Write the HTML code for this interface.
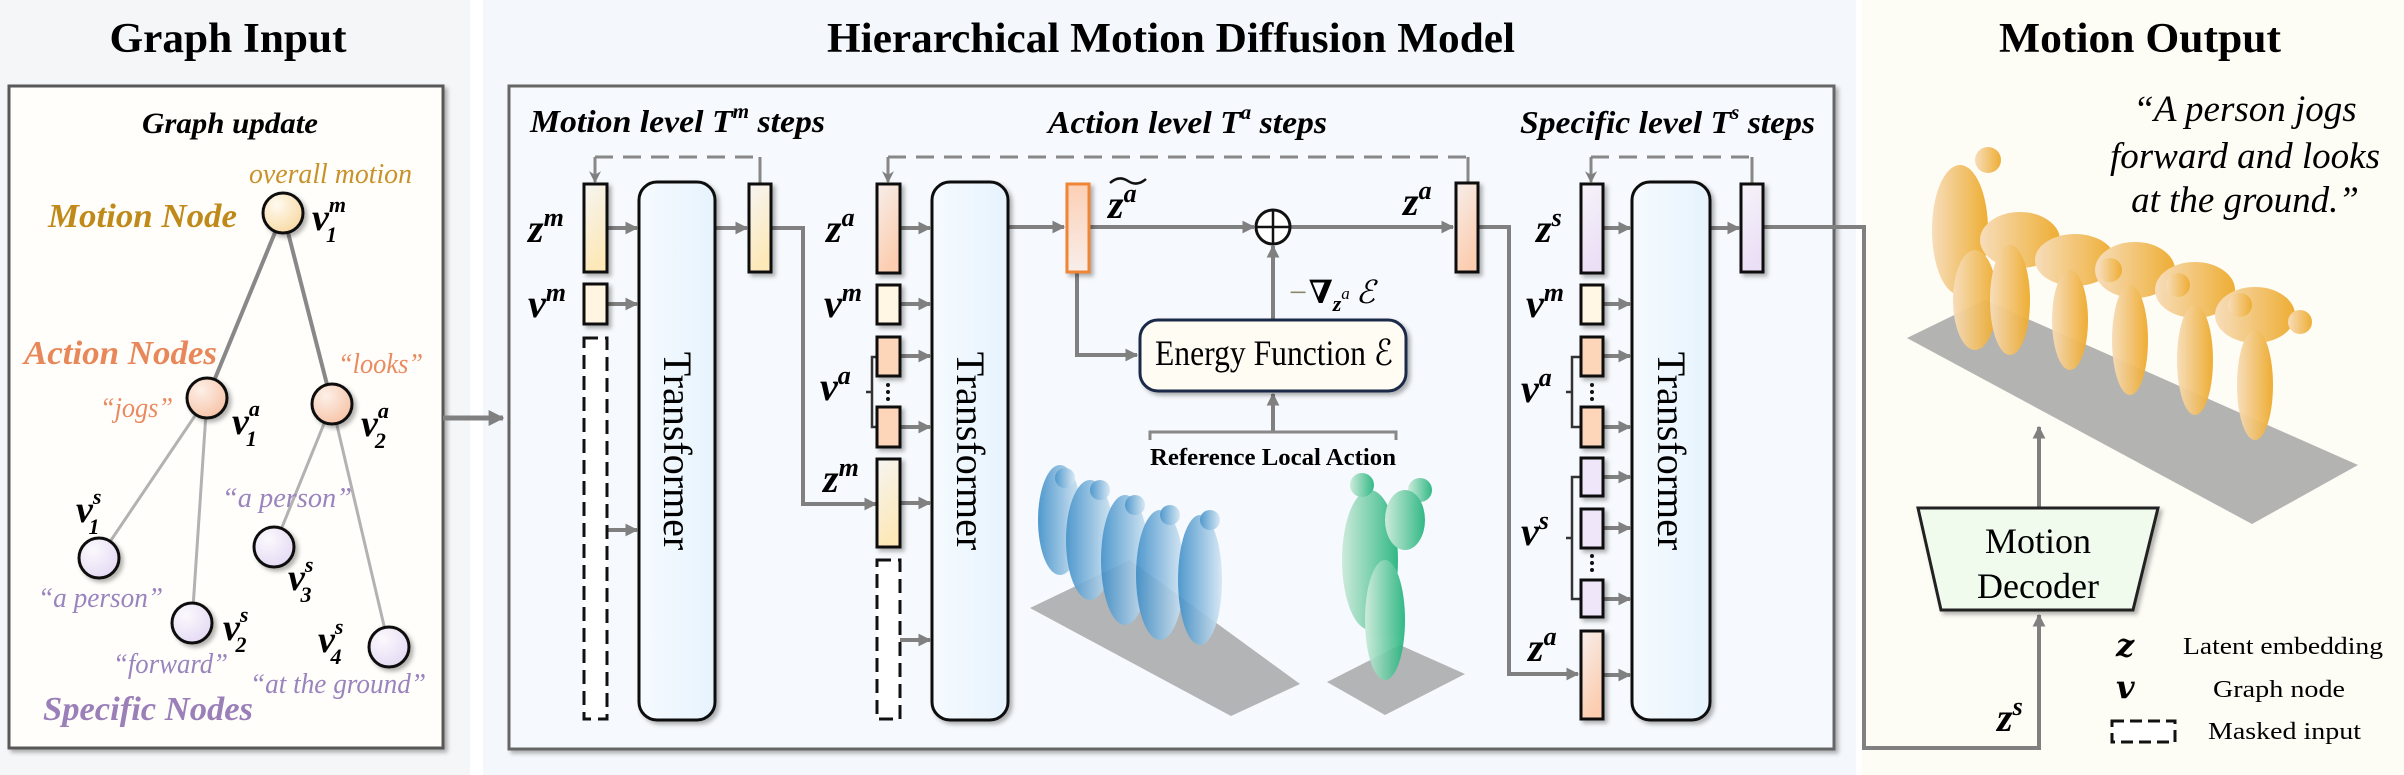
<!DOCTYPE html>
<html><head><meta charset="utf-8"><style>
html,body{margin:0;padding:0;background:#fff}
svg{display:block}
text{font-family:"Liberation Serif","DejaVu Serif",serif}
.m{font-family:"DejaVu Serif",serif;font-weight:bold;font-style:italic}
</style></head><body>
<svg width="2404" height="775" viewBox="0 0 2404 775" xmlns="http://www.w3.org/2000/svg">
<defs>
<marker id="ah" viewBox="0 0 10 10" refX="9" refY="5" markerWidth="3.2" markerHeight="3.2" orient="auto" markerUnits="strokeWidth"><path d="M0,0 L10,5 L0,10 z" fill="#808080"/></marker>
<marker id="av" viewBox="0 0 10 10" refX="9" refY="5" markerWidth="4" markerHeight="4" orient="auto" markerUnits="strokeWidth"><path d="M0,0 L10,5 L0,10 L3,5 z" fill="#808080"/></marker>
<linearGradient id="gm" x1="0" y1="0" x2="0.3" y2="1"><stop offset="0" stop-color="#f6f5f2"/><stop offset="1" stop-color="#fde8b8"/></linearGradient>
<linearGradient id="ga" x1="0" y1="0" x2="0.4" y2="1"><stop offset="0" stop-color="#f7eeea"/><stop offset="1" stop-color="#fccdb0"/></linearGradient>
<linearGradient id="gt" x1="0" y1="0" x2="0" y2="1"><stop offset="0" stop-color="#fcd0b5"/><stop offset="1" stop-color="#f8eeea"/></linearGradient>
<linearGradient id="gs" x1="0" y1="0" x2="0.3" y2="1"><stop offset="0" stop-color="#f6f3f8"/><stop offset="1" stop-color="#ebdff6"/></linearGradient>
<radialGradient id="nm" cx="0.35" cy="0.3" r="0.8"><stop offset="0" stop-color="#fffaf0"/><stop offset="1" stop-color="#f7d79e"/></radialGradient>
<radialGradient id="na" cx="0.35" cy="0.3" r="0.8"><stop offset="0" stop-color="#fdf0e8"/><stop offset="1" stop-color="#f6c0a2"/></radialGradient>
<radialGradient id="ns" cx="0.35" cy="0.3" r="0.8"><stop offset="0" stop-color="#fbf9fd"/><stop offset="1" stop-color="#e3d8f3"/></radialGradient>
<linearGradient id="gtr" x1="0" y1="0" x2="1" y2="0"><stop offset="0" stop-color="#f6fbff"/><stop offset="1" stop-color="#e6f3fd"/></linearGradient>
<linearGradient id="orng" x1="0" y1="0" x2="1" y2="0"><stop offset="0" stop-color="#f7dcb8"/><stop offset="1" stop-color="#eeaa2a"/></linearGradient>
<linearGradient id="blue" x1="0" y1="0" x2="1" y2="0"><stop offset="0" stop-color="#3f8fc9"/><stop offset="1" stop-color="#d4e6f3"/></linearGradient>
<linearGradient id="grn" x1="0" y1="0" x2="1" y2="0"><stop offset="0" stop-color="#c9ead7"/><stop offset="1" stop-color="#1eb27a"/></linearGradient>
<filter id="sh" x="-20%" y="-20%" width="150%" height="150%"><feDropShadow dx="3" dy="3" stdDeviation="2" flood-color="#000" flood-opacity="0.3"/></filter>
</defs>

<rect x="0" y="0" width="470" height="775" fill="#f5f6f8"/>
<rect x="483" y="0" width="1373" height="775" fill="#f4f8fc"/>
<rect x="1862" y="0" width="542" height="775" fill="#fdfcf5"/>

<text x="228" y="52" font-size="42" font-weight="bold" text-anchor="middle" textLength="237" lengthAdjust="spacingAndGlyphs">Graph Input</text>
<text x="1171" y="52" font-size="42" font-weight="bold" text-anchor="middle" textLength="688" lengthAdjust="spacingAndGlyphs">Hierarchical Motion Diffusion Model</text>
<text x="2140" y="52" font-size="42" font-weight="bold" text-anchor="middle" textLength="282" lengthAdjust="spacingAndGlyphs">Motion Output</text>

<!-- LEFT BOX -->
<rect x="9" y="86" width="434" height="662" fill="#fffefa" stroke="#585858" stroke-width="3" filter="url(#sh)"/>
<text x="230" y="133" font-size="30" font-weight="bold" font-style="italic" text-anchor="middle" textLength="176" lengthAdjust="spacingAndGlyphs">Graph update</text>
<g stroke="#888" stroke-width="4"><line x1="283" y1="213" x2="207" y2="398"/><line x1="283" y1="213" x2="332" y2="404"/></g>
<g stroke="#b2b2b2" stroke-width="3"><line x1="207" y1="398" x2="99" y2="558"/><line x1="207" y1="398" x2="192" y2="623"/><line x1="332" y1="404" x2="274" y2="547"/><line x1="332" y1="404" x2="389" y2="647"/></g>
<g stroke="#111" stroke-width="3" filter="url(#sh)">
<circle cx="283" cy="213" r="20" fill="url(#nm)"/>
<circle cx="207" cy="398" r="20" fill="url(#na)"/>
<circle cx="332" cy="404" r="20" fill="url(#na)"/>
<circle cx="99" cy="558" r="20" fill="url(#ns)"/>
<circle cx="192" cy="623" r="20" fill="url(#ns)"/>
<circle cx="274" cy="547" r="20" fill="url(#ns)"/>
<circle cx="389" cy="647" r="20" fill="url(#ns)"/>
</g>
<g font-style="italic" font-size="28">
<text x="249" y="183" fill="#c8922a" textLength="163" lengthAdjust="spacingAndGlyphs">overall motion</text>
<text x="338" y="373" fill="#ea8a60" textLength="85" lengthAdjust="spacingAndGlyphs">“looks”</text>
<text x="100" y="417" fill="#ea8a60" textLength="73" lengthAdjust="spacingAndGlyphs">“jogs”</text>
<text x="38" y="607" fill="#9a84be" textLength="125" lengthAdjust="spacingAndGlyphs">“a person”</text>
<text x="222" y="507" fill="#9a84be" textLength="130" lengthAdjust="spacingAndGlyphs">“a person”</text>
<text x="113" y="673" fill="#9a84be" textLength="115" lengthAdjust="spacingAndGlyphs">“forward”</text>
<text x="250" y="693" fill="#9a84be" textLength="176" lengthAdjust="spacingAndGlyphs">“at the ground”</text>
</g>
<g font-weight="bold" font-style="italic" font-size="34">
<text x="48" y="227" fill="#c08a1a" textLength="189" lengthAdjust="spacingAndGlyphs">Motion Node</text>
<text x="24" y="364" fill="#e8875a" textLength="193" lengthAdjust="spacingAndGlyphs">Action Nodes</text>
<text x="43" y="720" fill="#9a7fb8" textLength="210" lengthAdjust="spacingAndGlyphs">Specific Nodes</text>
</g>
<g class="m" font-size="38">
<text x="312" y="230">v<tspan font-size="22" dy="-18">m</tspan><tspan font-size="22" dx="-20" dy="30">1</tspan></text>
<text x="232" y="434">v<tspan font-size="22" dy="-18">a</tspan><tspan font-size="22" dx="-14" dy="30">1</tspan></text>
<text x="361" y="436">v<tspan font-size="22" dy="-18">a</tspan><tspan font-size="22" dx="-14" dy="30">2</tspan></text>
<text x="76" y="522">v<tspan font-size="22" dy="-18">s</tspan><tspan font-size="22" dx="-13" dy="30">1</tspan></text>
<text x="223" y="640">v<tspan font-size="22" dy="-18">s</tspan><tspan font-size="22" dx="-13" dy="30">2</tspan></text>
<text x="288" y="590">v<tspan font-size="22" dy="-18">s</tspan><tspan font-size="22" dx="-13" dy="30">3</tspan></text>
<text x="318" y="652">v<tspan font-size="22" dy="-18">s</tspan><tspan font-size="22" dx="-13" dy="30">4</tspan></text>
</g>

<line x1="443" y1="418" x2="503" y2="418" stroke="#808080" stroke-width="5" marker-end="url(#ah)"/>

<!-- MIDDLE BOX -->
<rect x="509" y="86" width="1325" height="663" fill="#f6f9fd" stroke="#666" stroke-width="3" filter="url(#sh)"/>
<g font-weight="bold" font-style="italic" font-size="32">
<text x="530" y="132" textLength="295" lengthAdjust="spacingAndGlyphs">Motion level T<tspan font-size="20" dy="-14">m</tspan><tspan dy="14"> steps</tspan></text>
<text x="1048" y="133" textLength="279" lengthAdjust="spacingAndGlyphs">Action level T<tspan font-size="20" dy="-14">a</tspan><tspan dy="14"> steps</tspan></text>
<text x="1520" y="133" textLength="295" lengthAdjust="spacingAndGlyphs">Specific level T<tspan font-size="20" dy="-14">s</tspan><tspan dy="14"> steps</tspan></text>
</g>

<g stroke="#888" stroke-width="3" fill="none">
<path d="M595,157 H760" stroke-dasharray="18 10"/><path d="M760,157 V184"/><path d="M595,157 V182" marker-end="url(#av)"/>
<path d="M888,157 H1468" stroke-dasharray="18 10"/><path d="M1468,157 V183"/><path d="M888,157 V182" marker-end="url(#av)"/>
<path d="M1591,157 H1752" stroke-dasharray="18 10"/><path d="M1752,157 V184"/><path d="M1591,157 V182" marker-end="url(#av)"/>
</g>

<g stroke="#808080" stroke-width="4" fill="none">
<path d="M607,228 H637" marker-end="url(#ah)"/><path d="M607,304 H637" marker-end="url(#ah)"/><path d="M607,530 H637" marker-end="url(#ah)"/>
<path d="M715,228 H747" marker-end="url(#ah)"/>
<path d="M771,228 H803 V504 H876" marker-end="url(#ah)"/>
<path d="M900,228 H930" marker-end="url(#ah)"/><path d="M900,304 H930" marker-end="url(#ah)"/><path d="M900,356 H930" marker-end="url(#ah)"/><path d="M900,427 H930" marker-end="url(#ah)"/><path d="M900,503 H930" marker-end="url(#ah)"/><path d="M900,640 H930" marker-end="url(#ah)"/>
<path d="M1008,227 H1064" marker-end="url(#ah)"/>
<path d="M1089,227 H1254" marker-end="url(#ah)"/>
<path d="M1290,227 H1453" marker-end="url(#ah)"/>
<path d="M1077,272 V355 H1137" marker-end="url(#ah)"/>
<path d="M1273,320 V246" marker-end="url(#ah)"/>
<path d="M1273,432 V394" marker-end="url(#ah)"/>
<path d="M1478,227 H1509 V674 H1578" marker-end="url(#ah)"/>
<path d="M1603,228 H1630" marker-end="url(#ah)"/><path d="M1603,304 H1630" marker-end="url(#ah)"/><path d="M1603,356 H1630" marker-end="url(#ah)"/><path d="M1603,427 H1630" marker-end="url(#ah)"/><path d="M1603,477 H1630" marker-end="url(#ah)"/><path d="M1603,528 H1630" marker-end="url(#ah)"/><path d="M1603,599 H1630" marker-end="url(#ah)"/><path d="M1603,675 H1630" marker-end="url(#ah)"/>
<path d="M1710,228 H1739" marker-end="url(#ah)"/>
<path d="M1763,227 H1864 V748 H2039 V615" marker-end="url(#ah)"/>
<path d="M2039,508 V427" marker-end="url(#ah)"/>
</g>
<g stroke="#333" stroke-width="2.5" fill="none">
<path d="M879,357 H872 V427 H879 M872,392 H866"/>
<path d="M1581,357 H1572 V427 H1581 M1572,392 H1566"/>
<path d="M1581,477 H1572 V599 H1581 M1572,538 H1566"/>
</g>
<path d="M1150,440 V432 H1396 V440" stroke="#888" stroke-width="3" fill="none"/>
<text x="1273" y="465" font-size="24" font-weight="bold" text-anchor="middle" textLength="246" lengthAdjust="spacingAndGlyphs">Reference Local Action</text>

<g stroke="#111" stroke-width="3" filter="url(#sh)">
<rect x="584" y="184" width="23" height="88" fill="url(#gm)"/>
<rect x="584" y="284" width="23" height="40" fill="#fff5e0"/>
<rect x="749" y="184" width="22" height="88" fill="url(#gm)"/>
<rect x="877" y="184" width="23" height="89" fill="url(#ga)"/>
<rect x="877" y="285" width="23" height="39" fill="#fff6e4"/>
<rect x="877" y="337" width="23" height="39" fill="#fdd5b9"/>
<rect x="877" y="407" width="23" height="40" fill="#fdd5b9"/>
<rect x="877" y="459" width="23" height="88" fill="url(#gm)"/>
<rect x="1067" y="184" width="22" height="88" fill="url(#gt)" stroke="#ef8535"/>
<rect x="1456" y="183" width="22" height="89" fill="url(#ga)"/>
<rect x="1581" y="184" width="22" height="89" fill="url(#gs)"/>
<rect x="1741" y="184" width="22" height="88" fill="url(#gs)"/>
<rect x="1581" y="285" width="22" height="39" fill="#fff6e4"/>
<rect x="1581" y="337" width="22" height="39" fill="#fdd5b9"/>
<rect x="1581" y="407" width="22" height="40" fill="#fdd5b9"/>
<rect x="1581" y="458" width="22" height="38" fill="#efe6fa"/>
<rect x="1581" y="509" width="22" height="39" fill="#efe6fa"/>
<rect x="1581" y="580" width="22" height="37" fill="#efe6fa"/>
<rect x="1581" y="631" width="22" height="88" fill="url(#ga)"/>
</g>
<g stroke="#111" stroke-width="3" fill="#fff" stroke-dasharray="14 7">
<rect x="584" y="338" width="23" height="381"/>
<rect x="877" y="560" width="23" height="159"/>
</g>
<g fill="#111"><circle cx="888" cy="385" r="2"/><circle cx="888" cy="392" r="2"/><circle cx="888" cy="399" r="2"/>
<circle cx="1592" cy="385" r="2"/><circle cx="1592" cy="392" r="2"/><circle cx="1592" cy="399" r="2"/>
<circle cx="1592" cy="556" r="2"/><circle cx="1592" cy="563" r="2"/><circle cx="1592" cy="570" r="2"/></g>

<g stroke="#111" stroke-width="3" fill="url(#gtr)" filter="url(#sh)">
<rect x="639" y="182" width="76" height="538" rx="18"/>
<rect x="932" y="182" width="76" height="538" rx="18"/>
<rect x="1632" y="182" width="78" height="538" rx="18"/>
</g>
<g font-size="40">
<text transform="translate(664,451) rotate(90)" text-anchor="middle">Transformer</text>
<text transform="translate(957,451) rotate(90)" text-anchor="middle">Transformer</text>
<text transform="translate(1658,451) rotate(90)" text-anchor="middle">Transformer</text>
</g>

<circle cx="1273" cy="227" r="17" fill="#fff" stroke="#111" stroke-width="3"/>
<path d="M1256,227 H1290 M1273,210 V244" stroke="#111" stroke-width="2.5"/>

<rect x="1140" y="320" width="266" height="71" rx="18" fill="#fffcf3" stroke="#1c2a4a" stroke-width="3" filter="url(#sh)"/>
<text x="1155" y="365" font-size="36" textLength="238" lengthAdjust="spacingAndGlyphs">Energy Function ℰ</text>
<text x="1287" y="303" font-size="32" font-style="italic"><tspan fill="#886">−</tspan><tspan font-weight="bold">∇</tspan><tspan font-size="22" dy="8" font-weight="bold">z</tspan><tspan font-size="17" dy="-12">a</tspan><tspan dy="4" dx="6">ℰ</tspan></text>

<g class="m" font-size="40">
<text x="528" y="242">z<tspan font-size="26" dy="-16">m</tspan></text>
<text x="528" y="317">v<tspan font-size="26" dy="-16">m</tspan></text>
<text x="826" y="242">z<tspan font-size="26" dy="-16">a</tspan></text>
<text x="824" y="317">v<tspan font-size="26" dy="-16">m</tspan></text>
<text x="820" y="400">v<tspan font-size="26" dy="-16">a</tspan></text>
<text x="823" y="492">z<tspan font-size="26" dy="-16">m</tspan></text>
<text x="1108" y="218">z<tspan font-size="26" dy="-16">a</tspan></text>
<text x="1403" y="215">z<tspan font-size="26" dy="-16">a</tspan></text>
<text x="1536" y="242">z<tspan font-size="26" dy="-16">s</tspan></text>
<text x="1526" y="317">v<tspan font-size="26" dy="-16">m</tspan></text>
<text x="1521" y="402">v<tspan font-size="26" dy="-16">a</tspan></text>
<text x="1521" y="545">v<tspan font-size="26" dy="-16">s</tspan></text>
<text x="1528" y="661">z<tspan font-size="26" dy="-16">a</tspan></text>
<text x="1997" y="731">z<tspan font-size="26" dy="-16">s</tspan></text>
</g>
<path d="M1110,183 q9,-8 18,-2 q9,6 18,-2" stroke="#111" stroke-width="2.5" fill="none"/>

<polygon points="1030,608 1130,560 1300,684 1231,716" fill="#9c9c9c" opacity="0.75"/>
<g fill="url(#blue)" opacity="0.9">
<ellipse cx="1060" cy="520" rx="22" ry="55"/><ellipse cx="1090" cy="540" rx="24" ry="60"/>
<ellipse cx="1125" cy="560" rx="24" ry="65"/><ellipse cx="1160" cy="575" rx="24" ry="65"/>
<ellipse cx="1200" cy="580" rx="22" ry="65"/>
<circle cx="1065" cy="478" r="10"/><circle cx="1100" cy="490" r="10"/><circle cx="1135" cy="505" r="10"/><circle cx="1170" cy="515" r="10"/><circle cx="1210" cy="520" r="10"/>
</g>
<polygon points="1327,682 1400,645 1465,674 1385,715" fill="#9c9c9c" opacity="0.75"/>
<g fill="url(#grn)" opacity="0.9">
<ellipse cx="1370" cy="560" rx="28" ry="70"/><ellipse cx="1385" cy="620" rx="20" ry="60"/>
<circle cx="1362" cy="485" r="12"/><circle cx="1420" cy="490" r="12"/><ellipse cx="1405" cy="520" rx="20" ry="30"/>
</g>

<polygon points="1907,338 1985,300 2358,465 2252,524" fill="#a0a0a0" opacity="0.8"/>
<g fill="url(#orng)" opacity="0.95">
<ellipse cx="1960" cy="230" rx="28" ry="65"/><circle cx="1988" cy="160" r="13"/>
<ellipse cx="1975" cy="300" rx="22" ry="50"/>
<ellipse cx="2020" cy="240" rx="40" ry="28"/><ellipse cx="2010" cy="300" rx="20" ry="55"/>
<ellipse cx="2075" cy="260" rx="40" ry="26"/><ellipse cx="2070" cy="320" rx="18" ry="50"/>
<ellipse cx="2135" cy="270" rx="40" ry="28"/><ellipse cx="2130" cy="340" rx="18" ry="55"/>
<ellipse cx="2195" cy="290" rx="40" ry="28"/><ellipse cx="2195" cy="360" rx="18" ry="55"/>
<ellipse cx="2255" cy="315" rx="40" ry="28"/><ellipse cx="2255" cy="385" rx="18" ry="55"/>
<circle cx="2110" cy="270" r="12"/><circle cx="2178" cy="285" r="12"/><circle cx="2240" cy="305" r="12"/><circle cx="2300" cy="322" r="12"/>
</g>

<g font-size="37" font-style="italic" text-anchor="middle">
<text x="2245" y="121">“A person jogs</text>
<text x="2245" y="168">forward and looks</text>
<text x="2245" y="212">at the ground.”</text>
</g>

<polygon points="1918,508 2158,508 2133,610 1941,610" fill="#f0fbee" stroke="#222" stroke-width="3" filter="url(#sh)"/>
<g font-size="36" text-anchor="middle"><text x="2038" y="553">Motion</text><text x="2038" y="598">Decoder</text></g>

<text class="m" x="2116" y="656" font-size="32">z</text>
<text x="2183" y="654" font-size="24" textLength="200" lengthAdjust="spacingAndGlyphs">Latent embedding</text>
<text class="m" x="2116" y="698" font-size="32">v</text>
<text x="2213" y="697" font-size="24" textLength="132" lengthAdjust="spacingAndGlyphs">Graph node</text>
<rect x="2112" y="721" width="63" height="21" fill="#fff" stroke="#111" stroke-width="3" stroke-dasharray="12 6"/>
<text x="2208" y="739" font-size="24" textLength="153" lengthAdjust="spacingAndGlyphs">Masked input</text>
</svg>
</body></html>
